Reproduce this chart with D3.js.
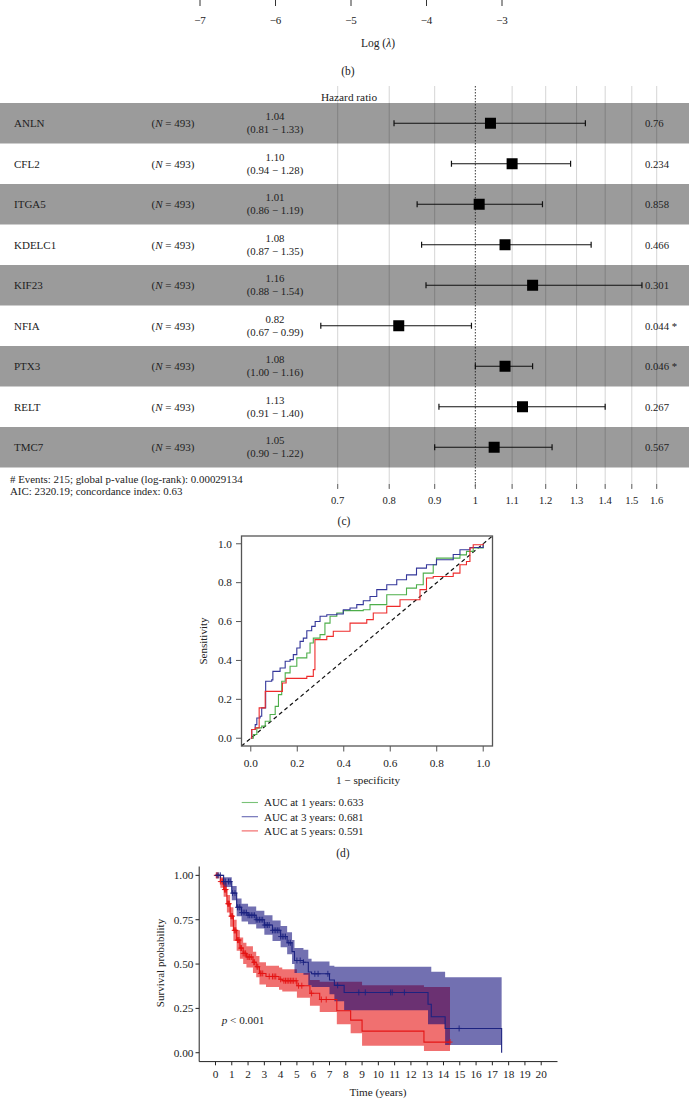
<!DOCTYPE html>
<html><head><meta charset="utf-8">
<script src="https://cdn.jsdelivr.net/npm/d3@7"></script>
<style>
body{margin:0;background:#fff}
svg{display:block}
text{font-family:"Liberation Serif","Times New Roman",serif;fill:#222}
</style>
</head><body>
<svg id="c" width="689" height="1099"></svg>
<script>
// ---------------- DATA ----------------
// panel (b) residual axis
const lambdaTicks = [-7, -6, -5, -4, -3];

// panel (c) forest plot
const genes = ["ANLN", "CFL2", "ITGA5", "KDELC1", "KIF23", "NFIA", "PTX3", "RELT", "TMC7"];
const hr = [1.04, 1.10, 1.01, 1.08, 1.16, 0.82, 1.08, 1.13, 1.05];
const hrLow = [0.81, 0.94, 0.86, 0.87, 0.88, 0.67, 1.00, 0.91, 0.90];
const hrHigh = [1.33, 1.28, 1.19, 1.35, 1.54, 0.99, 1.16, 1.40, 1.22];
const pLabels = ["0.76", "0.234", "0.858", "0.466", "0.301", "0.044 *", "0.046 *", "0.267", "0.567"];
const nPatients = 493;
const hrTicks = [0.7, 0.8, 0.9, 1, 1.1, 1.2, 1.3, 1.4, 1.5, 1.6];
const footLines = ["# Events: 215; global p-value (log-rank): 0.00029134", "AIC: 2320.19; concordance index: 0.63"];

// panel (d) ROC curves
const rocLabels = ["AUC at 1 years: 0.633", "AUC at 3 years: 0.681", "AUC at 5 years: 0.591"];
const roc1Fpr = [0, 0.011, 0.026, 0.047, 0.062, 0.083, 0.105, 0.119, 0.133, 0.148, 0.169, 0.198, 0.241, 0.255, 0.269, 0.298, 0.319, 0.341, 0.37, 0.398, 0.484, 0.513, 0.585, 0.67, 0.713, 0.742, 0.785, 0.799, 0.9, 0.928, 0.957, 1];
const roc1Tpr = [0, 0.019, 0.053, 0.062, 0.087, 0.122, 0.164, 0.224, 0.293, 0.336, 0.37, 0.413, 0.438, 0.49, 0.515, 0.533, 0.592, 0.627, 0.644, 0.656, 0.661, 0.687, 0.738, 0.772, 0.789, 0.849, 0.892, 0.926, 0.943, 0.961, 0.978, 1];
const roc3Fpr = [0, 0.004, 0.019, 0.026, 0.04, 0.047, 0.059, 0.064, 0.09, 0.095, 0.126, 0.148, 0.169, 0.183, 0.198, 0.212, 0.226, 0.241, 0.262, 0.277, 0.298, 0.327, 0.37, 0.398, 0.427, 0.456, 0.484, 0.513, 0.542, 0.585, 0.628, 0.67, 0.713, 0.756, 0.799, 0.871, 0.9, 0.943, 1];
const roc3Tpr = [0, 0.045, 0.07, 0.104, 0.113, 0.156, 0.156, 0.293, 0.30, 0.344, 0.361, 0.396, 0.404, 0.43, 0.464, 0.498, 0.515, 0.553, 0.575, 0.6, 0.627, 0.635, 0.639, 0.661, 0.67, 0.687, 0.707, 0.729, 0.764, 0.789, 0.815, 0.84, 0.875, 0.892, 0.918, 0.945, 0.969, 0.981, 1];
const roc5Fpr = [0, 0.004, 0.019, 0.036, 0.057, 0.062, 0.126, 0.136, 0.152, 0.241, 0.269, 0.276, 0.327, 0.355, 0.42, 0.427, 0.499, 0.527, 0.585, 0.642, 0.728, 0.756, 0.785, 0.871, 0.9, 0.928, 0.943, 0.957, 1];
const roc5Tpr = [0, 0.045, 0.053, 0.156, 0.156, 0.241, 0.241, 0.284, 0.308, 0.318, 0.353, 0.507, 0.524, 0.55, 0.55, 0.592, 0.61, 0.644, 0.678, 0.712, 0.764, 0.824, 0.832, 0.849, 0.892, 0.909, 0.978, 0.995, 1];
const rocTicks = [0, 0.2, 0.4, 0.6, 0.8, 1.0];

// panel (e) Kaplan-Meier (blue = low risk, red = high risk)
const lowTime  = [0, 0.5, 1.0, 1.3, 1.6, 2.0, 2.5, 3.0, 3.5, 4.0, 4.4, 4.7, 4.85, 5.4, 5.7, 5.9, 7.0, 7.3, 7.9, 13.05, 13.25, 14.1, 17.57];
const lowSurv  = [1, 0.965, 0.90, 0.82, 0.79, 0.775, 0.75, 0.72, 0.69, 0.655, 0.62, 0.57, 0.52, 0.51, 0.455, 0.445, 0.41, 0.38, 0.34, 0.273, 0.203, 0.137, 0];
const lowUpper = [1, 0.99, 0.94, 0.87, 0.84, 0.825, 0.80, 0.775, 0.745, 0.715, 0.68, 0.635, 0.59, 0.58, 0.53, 0.515, 0.49, 0.485, 0.485, 0.485, 0.457, 0.425, 0.425];
const lowLower = [1, 0.935, 0.86, 0.77, 0.74, 0.725, 0.70, 0.665, 0.63, 0.595, 0.555, 0.50, 0.45, 0.44, 0.38, 0.37, 0.33, 0.29, 0.24, 0.16, 0.16, 0.043, 0.043];
const lowCensor = [0.1, 0.2, 0.3, 0.5, 0.6, 0.8, 0.9, 1.05, 1.2, 1.35, 1.45, 1.5, 1.6, 1.7, 1.8, 1.9, 2.0, 2.1, 2.2, 2.3, 2.4, 2.5, 2.6, 2.7, 2.8, 2.9, 3.0, 3.1, 3.2, 3.3, 3.5, 3.6, 3.7, 3.8, 3.9, 4.0, 4.1, 4.2, 4.3, 4.5, 4.6, 5.0, 5.2, 5.4, 6.1, 6.3, 6.9, 7.5, 8.8, 9.2, 10.75, 10.85, 11.6, 14.96];

const highTime  = [0, 0.3, 0.5, 0.7, 0.9, 1.1, 1.3, 1.5, 1.7, 1.9, 2.3, 2.5, 2.7, 3.1, 3.9, 4.1, 5.0, 5.8, 6.4, 7.45, 8.3, 9.0, 12.8, 14.4];
const highSurv  = [1, 0.965, 0.92, 0.84, 0.77, 0.69, 0.635, 0.59, 0.56, 0.54, 0.51, 0.485, 0.447, 0.43, 0.414, 0.406, 0.378, 0.335, 0.30, 0.237, 0.184, 0.122, 0.06, 0.06];
const highUpper = [1, 0.99, 0.96, 0.89, 0.82, 0.75, 0.69, 0.65, 0.62, 0.60, 0.57, 0.545, 0.51, 0.49, 0.48, 0.47, 0.45, 0.41, 0.40, 0.40, 0.40, 0.38, 0.37, 0.37];
const highLower = [1, 0.93, 0.88, 0.79, 0.71, 0.63, 0.575, 0.53, 0.50, 0.48, 0.45, 0.425, 0.385, 0.37, 0.355, 0.345, 0.31, 0.265, 0.23, 0.16, 0.11, 0.04, 0.01, 0.01];
const highCensor = [0.05, 0.1, 0.15, 0.3, 0.4, 0.45, 0.55, 0.6, 0.65, 0.75, 0.8, 0.85, 0.95, 1.0, 1.05, 1.15, 1.2, 1.25, 1.35, 1.4, 1.45, 1.55, 1.6, 1.7, 1.8, 1.85, 1.95, 2.05, 2.1, 2.2, 2.35, 2.4, 2.55, 2.6, 2.75, 2.8, 2.9, 3.3, 3.5, 3.6, 3.7, 4.0, 4.2, 4.3, 4.4, 4.5, 4.6, 4.7, 4.8, 4.95, 5.1, 5.3, 5.9, 6.5, 6.8, 14.4];
const kmXTicks = d3.range(0, 21);
const kmYTicks = [0, 0.25, 0.5, 0.75, 1.0];

// ---------------- DRAW ----------------
const svg = d3.select("#c");
const FS = 11;

// ---- (b) axis remnant ----
const xLam = d3.scaleLinear().domain([-7, -3]).range([200, 502]);
const gB = svg.append("g");
lambdaTicks.forEach(t => {
  gB.append("line").attr("x1", xLam(t)).attr("x2", xLam(t)).attr("y1", 0).attr("y2", 6).attr("stroke", "#333").attr("stroke-width", 1);
  gB.append("text").attr("x", xLam(t)).attr("y", 24).attr("text-anchor", "middle").attr("font-size", FS).text("\u2212" + Math.abs(t));
});
const lamLabel = gB.append("text").attr("x", 378).attr("y", 47).attr("text-anchor", "middle").attr("font-size", 11.5);
lamLabel.append("tspan").text("Log (");
lamLabel.append("tspan").attr("font-style", "italic").text("\u03bb");
lamLabel.append("tspan").text(")");
gB.append("text").attr("x", 348).attr("y", 75).attr("text-anchor", "middle").attr("font-size", 11.5).text("(b)");

// ---- (c) forest plot ----
const gC = svg.append("g");
const yRow = d3.scaleBand().domain(genes).range([103, 467.5]).padding(0);
const xHR = d3.scaleLog().domain([0.7, 1.6]).range([337.7, 656.7]);
gC.append("text").attr("x", 349).attr("y", 101).attr("text-anchor", "middle").attr("font-size", 11.3).text("Hazard ratio");
genes.forEach((g, i) => {
  if (i % 2 === 0) gC.append("rect").attr("x", 0).attr("y", yRow(g)).attr("width", 689).attr("height", yRow.bandwidth()).attr("fill", "#9b9b9b");
});
const gridTop = 86, gridBot = 488;
hrTicks.forEach(t => {
  if (t === 1) return;
  gC.append("line").attr("x1", xHR(t)).attr("x2", xHR(t)).attr("y1", gridTop).attr("y2", gridBot).attr("stroke", "rgba(0,0,0,0.17)").attr("stroke-width", 1);
});
gC.append("line").attr("x1", xHR(1)).attr("x2", xHR(1)).attr("y1", gridTop).attr("y2", gridBot).attr("stroke", "#222").attr("stroke-width", 0.9).attr("stroke-dasharray", "1.5,1.5");
hrTicks.forEach(t => {
  gC.append("line").attr("x1", xHR(t)).attr("x2", xHR(t)).attr("y1", 484).attr("y2", 489).attr("stroke", "#666").attr("stroke-width", 1);
  gC.append("text").attr("x", xHR(t)).attr("y", 503.5).attr("text-anchor", "middle").attr("font-size", 10.6).text(String(t));
});
genes.forEach((g, i) => {
  const cy = yRow(g) + yRow.bandwidth() / 2;
  gC.append("text").attr("x", 14).attr("y", cy + 4).attr("font-size", FS).text(g);
  const nt = gC.append("text").attr("x", 173).attr("y", cy + 4).attr("text-anchor", "middle").attr("font-size", FS);
  nt.append("tspan").text("(");
  nt.append("tspan").attr("font-style", "italic").text("N");
  nt.append("tspan").text(" = " + nPatients + ")");
  gC.append("text").attr("x", 275).attr("y", cy - 3.2).attr("text-anchor", "middle").attr("font-size", 10.8).text(hr[i].toFixed(2));
  gC.append("text").attr("x", 275).attr("y", cy + 10).attr("text-anchor", "middle").attr("font-size", 10.8).text("(" + hrLow[i].toFixed(2) + " \u2212 " + hrHigh[i].toFixed(2) + ")");
  gC.append("line").attr("x1", xHR(hrLow[i])).attr("x2", xHR(hrHigh[i])).attr("y1", cy).attr("y2", cy).attr("stroke", "#111").attr("stroke-width", 1.2);
  [hrLow[i], hrHigh[i]].forEach(v => gC.append("line").attr("x1", xHR(v)).attr("x2", xHR(v)).attr("y1", cy - 3).attr("y2", cy + 3).attr("stroke", "#111").attr("stroke-width", 1.2));
  gC.append("rect").attr("x", xHR(hr[i]) - 5.5).attr("y", cy - 5.5).attr("width", 11).attr("height", 11).attr("fill", "#000");
  gC.append("text").attr("x", 645).attr("y", cy + 4).attr("font-size", 10.7).text(pLabels[i]);
});
footLines.forEach((t, i) => gC.append("text").attr("x", 10).attr("y", 483 + i * 12).attr("font-size", 10.9).text(t));
gC.append("text").attr("x", 344).attr("y", 525).attr("text-anchor", "middle").attr("font-size", 11.5).text("(c)");

// ---- (d) ROC ----
const gD = svg.append("g");
const xR = d3.scaleLinear().domain([-0.04, 1.04]).range([241.5, 492.5]);
const yR = d3.scaleLinear().domain([-0.04, 1.04]).range([746, 536]);
gD.append("line").attr("x1", xR(-0.04)).attr("y1", yR(-0.04)).attr("x2", xR(1.04)).attr("y2", yR(1.04)).attr("stroke", "#111").attr("stroke-width", 1.2).attr("stroke-dasharray", "4,3");
const rocSeries = [
  {fpr: roc1Fpr, tpr: roc1Tpr, color: "#4dae4a"},
  {fpr: roc3Fpr, tpr: roc3Tpr, color: "#34379a"},
  {fpr: roc5Fpr, tpr: roc5Tpr, color: "#ee2b2b"}
];
const rocLine = d3.line().curve(d3.curveStepAfter);
rocSeries.forEach(s => {
  const pts = s.fpr.map((f, i) => [xR(f), yR(s.tpr[i])]);
  gD.append("path").attr("d", rocLine(pts)).attr("fill", "none").attr("stroke", s.color).attr("stroke-width", 1.1);
});
gD.append("rect").attr("x", 241.5).attr("y", 536).attr("width", 251).attr("height", 210).attr("fill", "none").attr("stroke", "#555").attr("stroke-width", 1.3);
rocTicks.forEach(t => {
  gD.append("line").attr("x1", 236).attr("x2", 241.5).attr("y1", yR(t)).attr("y2", yR(t)).attr("stroke", "#555");
  gD.append("text").attr("x", 232).attr("y", yR(t) + 3.8).attr("text-anchor", "end").attr("font-size", 11.3).text(t.toFixed(1));
  gD.append("line").attr("x1", xR(t)).attr("x2", xR(t)).attr("y1", 746).attr("y2", 751.5).attr("stroke", "#555");
  gD.append("text").attr("x", xR(t)).attr("y", 767).attr("text-anchor", "middle").attr("font-size", 11.3).text(t.toFixed(1));
});
gD.append("text").attr("transform", "translate(207,641) rotate(-90)").attr("text-anchor", "middle").attr("font-size", 11).text("Sensitivity");
gD.append("text").attr("x", 368).attr("y", 784).attr("text-anchor", "middle").attr("font-size", 11.2).text("1 \u2212 specificity");
rocSeries.forEach((s, i) => {
  const y = 802.5 + i * 14.2;
  gD.append("line").attr("x1", 241.7).attr("x2", 258).attr("y1", y).attr("y2", y).attr("stroke", s.color).attr("stroke-width", 1.1).attr("opacity", 0.75);
  gD.append("text").attr("x", 264).attr("y", y + 3.8).attr("font-size", 11.1).text(rocLabels[i]);
});
gD.append("text").attr("x", 343).attr("y", 857).attr("text-anchor", "middle").attr("font-size", 11.5).text("(d)");

// ---- (e) Kaplan-Meier ----
const gE = svg.append("g");
const xK = d3.scaleLinear().domain([-1, 21]).range([199.2, 557.5]);
const yK = d3.scaleLinear().domain([-0.05, 1.05]).range([1061.6, 866.5]);
const groups = [
  {time: highTime, surv: highSurv, up: highUpper, lo: highLower, cens: highCensor, fill: "rgb(228,0,0)", line: "#e41414"},
  {time: lowTime, surv: lowSurv, up: lowUpper, lo: lowLower, cens: lowCensor, fill: "rgb(4,0,116)", line: "#1c2280"}
];
const area = d3.area().curve(d3.curveStepAfter);
groups.forEach(g => {
  const pts = g.time.map((t, i) => ({t, u: g.up[i], l: g.lo[i]}));
  area.x(d => xK(d.t)).y0(d => yK(d.l)).y1(d => yK(d.u));
  gE.append("path").attr("d", area(pts)).attr("fill", g.fill).attr("fill-opacity", 0.56).attr("stroke", "none");
});
const kmLine = d3.line().curve(d3.curveStepAfter);
groups.forEach(g => {
  gE.append("path").attr("d", kmLine(g.time.map((t, i) => [xK(t), yK(g.surv[i])]))).attr("fill", "none").attr("stroke", g.line).attr("stroke-width", 1.1);
  g.cens.forEach(c => {
    const idx = d3.bisectRight(g.time, c) - 1;
    const v = g.surv[Math.max(0, idx)];
    const cx = xK(c), cy = yK(v);
    gE.append("line").attr("x1", cx).attr("x2", cx).attr("y1", cy - 3).attr("y2", cy + 3).attr("stroke", g.line).attr("stroke-width", 0.9);
    gE.append("line").attr("x1", cx - 2.5).attr("x2", cx + 2.5).attr("y1", cy).attr("y2", cy).attr("stroke", g.line).attr("stroke-width", 0.9);
  });
});
// axes
gE.append("line").attr("x1", 199.2).attr("x2", 199.2).attr("y1", 866.5).attr("y2", 1061.6).attr("stroke", "#222").attr("stroke-width", 1);
gE.append("line").attr("x1", 199.2).attr("x2", 557.5).attr("y1", 1061.6).attr("y2", 1061.6).attr("stroke", "#222").attr("stroke-width", 1);
kmYTicks.forEach(t => {
  gE.append("line").attr("x1", 195.5).attr("x2", 199.2).attr("y1", yK(t)).attr("y2", yK(t)).attr("stroke", "#222");
  gE.append("text").attr("x", 193.5).attr("y", yK(t) + 3.8).attr("text-anchor", "end").attr("font-size", 11.3).text(t.toFixed(2));
});
kmXTicks.forEach(t => {
  gE.append("line").attr("x1", xK(t)).attr("x2", xK(t)).attr("y1", 1061.6).attr("y2", 1065.3).attr("stroke", "#222");
  gE.append("text").attr("x", xK(t)).attr("y", 1077.5).attr("text-anchor", "middle").attr("font-size", 11.3).text(t);
});
gE.append("text").attr("transform", "translate(164,963) rotate(-90)").attr("text-anchor", "middle").attr("font-size", 11).text("Survival probability");
gE.append("text").attr("x", 378).attr("y", 1096).attr("text-anchor", "middle").attr("font-size", 11.2).text("Time (years)");
const pT = gE.append("text").attr("x", 221.7).attr("y", 1024).attr("font-size", 11.2);
pT.append("tspan").attr("font-style", "italic").text("p");
pT.append("tspan").text(" < 0.001");
</script>
</body></html>
